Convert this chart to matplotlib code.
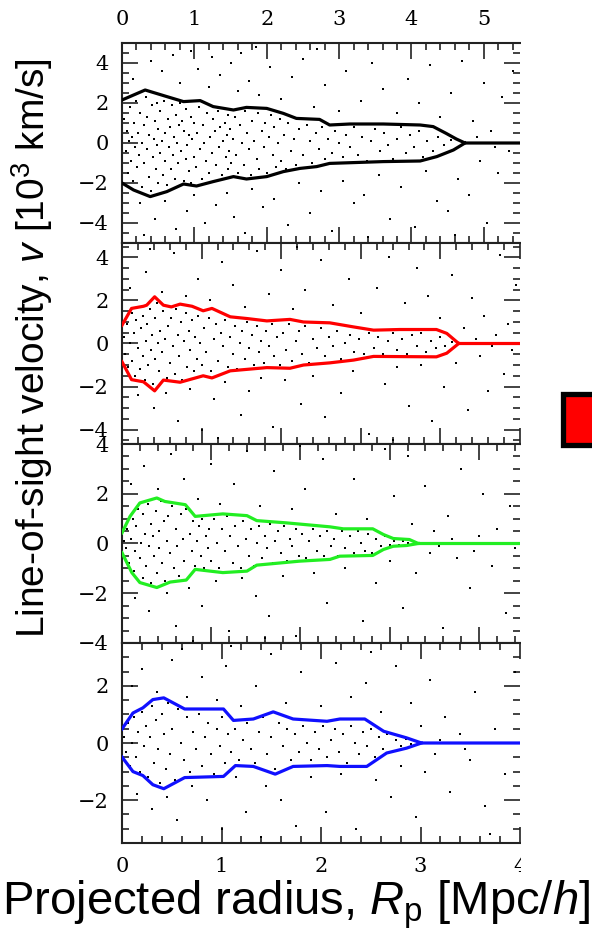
import matplotlib
matplotlib.use('Agg')
import matplotlib.pyplot as plt
from matplotlib.ticker import MultipleLocator, FixedLocator
from matplotlib.patches import Rectangle

plt.rcParams['mathtext.fontset'] = 'custom'
plt.rcParams['mathtext.rm'] = 'Liberation Sans'
plt.rcParams['mathtext.it'] = 'Liberation Sans:italic'

# ---------------- data ----------------
x_max = [5.5, 5.0, 4.46, 4.0]
v_lim = [5.0, 4.67, 4.0, 3.5]
x_major_ticks = [[0, 1, 2, 3, 4, 5], [0, 1, 2, 3, 4, 5], [0, 1, 2, 3, 4], [0, 1, 2, 3, 4]]
v_major_ticks = [[-4, -2, 0, 2, 4], [-4, -2, 0, 2, 4], [-4, -2, 0, 2, 4], [-2, 0, 2]]
curve_colors = ['#000000', '#ff0000', '#22ee22', '#1010ff']

# caustic curves (R, v) for each panel
up1 = [(0, 2.15), (0.32, 2.65), (0.62, 2.32), (0.85, 2.07), (1.08, 2.12), (1.26, 1.82), (1.54, 1.65),
       (1.72, 1.78), (2.0, 1.73), (2.23, 1.48), (2.41, 1.23), (2.73, 1.18), (2.87, 0.9), (3.15, 0.95),
       (3.61, 0.95), (4.12, 0.9), (4.3, 0.82), (4.48, 0.48), (4.62, 0.2), (4.74, 0.0), (5.5, 0.0)]
lo1 = [(0, -2.0), (0.16, -2.35), (0.39, -2.68), (0.62, -2.43), (0.85, -2.05), (1.03, -2.15), (1.26, -1.93),
       (1.54, -1.68), (1.72, -1.8), (2.0, -1.68), (2.23, -1.43), (2.46, -1.27), (2.69, -1.18), (2.87, -1.02),
       (3.61, -0.93), (4.12, -0.9), (4.35, -0.68), (4.58, -0.35), (4.74, 0.0)]
up2 = [(0, 0.85), (0.12, 1.63), (0.27, 1.73), (0.31, 1.78), (0.41, 2.17), (0.52, 1.78), (0.62, 1.7),
       (0.73, 1.83), (0.88, 1.73), (1.02, 1.52), (1.13, 1.63), (1.36, 1.24), (1.57, 1.16), (1.82, 1.05),
       (2.11, 1.12), (2.28, 1.0), (2.61, 0.96), (2.91, 0.77), (3.16, 0.62), (3.49, 0.65), (3.95, 0.65),
       (4.08, 0.47), (4.23, 0.0), (5.0, 0.0)]
lo2 = [(0, -0.85), (0.12, -1.68), (0.27, -1.78), (0.41, -2.2), (0.52, -1.7), (0.73, -1.8), (1.02, -1.5),
       (1.13, -1.6), (1.36, -1.27), (1.82, -1.12), (2.11, -1.15), (2.28, -1.0), (2.61, -0.9), (2.91, -0.77),
       (3.16, -0.6), (3.95, -0.62), (4.08, -0.45), (4.23, 0.0)]
up3 = [(0, 0.43), (0.09, 1.09), (0.2, 1.63), (0.39, 1.83), (0.48, 1.69), (0.71, 1.56), (0.82, 1.09),
       (1.13, 1.19), (1.4, 1.12), (1.51, 0.92), (1.84, 0.83), (2.33, 0.67), (2.48, 0.59), (2.81, 0.59),
       (2.93, 0.36), (3.04, 0.2), (3.22, 0.16), (3.32, 0.0), (4.46, 0.0)]
lo3 = [(0, -0.37), (0.11, -1.17), (0.2, -1.57), (0.39, -1.77), (0.54, -1.55), (0.72, -1.47), (0.82, -1.04),
       (1.13, -1.17), (1.4, -1.11), (1.51, -0.87), (1.99, -0.71), (2.33, -0.64), (2.44, -0.51), (2.81, -0.48),
       (2.93, -0.24), (3.04, -0.11), (3.19, -0.08), (3.32, 0.0)]
up4 = [(0, 0.49), (0.11, 1.05), (0.21, 1.23), (0.31, 1.52), (0.42, 1.58), (0.63, 1.19), (0.78, 1.19),
       (1.02, 1.19), (1.12, 0.79), (1.32, 0.84), (1.52, 1.09), (1.72, 0.84), (2.06, 0.76), (2.19, 0.84),
       (2.44, 0.84), (2.63, 0.41), (2.86, 0.18), (3.01, 0.0), (4.0, 0.0)]
lo4 = [(0, -0.49), (0.11, -1.0), (0.21, -1.14), (0.31, -1.46), (0.42, -1.6), (0.63, -1.21), (1.02, -1.17),
       (1.14, -0.79), (1.32, -0.82), (1.54, -1.09), (1.72, -0.82), (2.06, -0.79), (2.19, -0.82), (2.46, -0.82),
       (2.66, -0.35), (2.86, -0.18), (3.01, 0.0)]

# galaxies (R, v) for each panel, estimated by eye
gal1 = [(0.03,1.2),(0.05,-0.4),(0.07,0.6),(0.08,-1.5),(0.1,0.1),(0.11,1.8),(0.12,-0.9),(0.14,0.3),(0.15,-1.9),(0.17,1.0),
        (0.18,-0.2),(0.2,2.1),(0.21,-1.2),(0.22,0.5),(0.24,-0.6),(0.25,1.5),(0.27,-2.2),(0.28,0.0),(0.3,0.9),(0.31,-1.0),
        (0.33,2.3),(0.34,-0.3),(0.35,1.3),(0.37,-1.7),(0.38,0.4),(0.4,-2.4),(0.41,1.9),(0.43,-0.7),(0.44,0.2),(0.46,1.1),
        (0.47,-1.3),(0.48,2.0),(0.49,-0.1),(0.5,0.7),(0.5,-2.0),
        (0.52,-0.5),(0.53,1.6),(0.55,0.1),(0.56,-1.6),(0.58,2.1),(0.59,-0.9),(0.6,0.5),(0.62,-2.1),(0.63,1.2),(0.65,-0.2),
        (0.66,0.8),(0.68,-1.3),(0.69,1.9),(0.7,-0.6),(0.72,0.3),(0.73,-1.8),(0.75,1.4),(0.76,0.0),(0.78,-1.0),(0.79,0.9),
        (0.8,2.0),(0.82,-0.4),(0.83,1.1),(0.85,-1.9),(0.86,0.6),(0.88,-0.8),(0.89,1.7),(0.9,-0.1),(0.92,0.4),(0.93,-1.4),
        (0.95,1.3),(0.96,-2.0),(0.97,0.2),(0.99,-0.7),(1.0,1.0),
        (1.02,-1.2),(1.04,0.5),(1.06,1.8),(1.08,-0.3),(1.1,-1.8),(1.12,0.9),(1.14,0.0),(1.16,-0.9),(1.18,1.5),(1.2,-1.5),
        (1.22,0.3),(1.24,-0.5),(1.26,1.2),(1.28,0.6),(1.3,-1.1),(1.32,1.6),(1.34,-0.2),(1.36,0.8),(1.38,-1.6),(1.4,0.1),
        (1.42,1.0),(1.44,-0.7),(1.45,0.4),(1.46,-1.3),(1.47,1.4),(1.48,-0.4),(1.49,0.7),(1.5,-1.0),
        (1.53,0.2),(1.56,1.3),(1.58,-0.6),(1.6,-1.5),(1.63,0.9),(1.66,0.0),(1.68,-1.1),(1.7,1.6),(1.73,0.5),(1.76,-0.3),
        (1.78,-1.6),(1.8,1.1),(1.83,0.1),(1.86,-0.8),(1.88,1.5),(1.9,-1.3),(1.93,0.6),(1.96,-0.2),(1.98,1.0),(2.0,-1.5),
        (2.03,0.3),(2.06,1.4),(2.08,-0.6),(2.1,0.8),(2.13,-1.2),(2.16,0.0),(2.18,1.2),(2.2,-0.9),(2.24,0.4),(2.27,-1.3),
        (2.3,1.0),(2.33,-0.4),(2.37,0.2),(2.4,-1.1),(2.45,0.7),
        (2.5,-0.6),(2.55,0.9),(2.6,0.1),(2.63,-1.0),(2.68,0.5),(2.72,-0.3),(2.76,0.8),(2.8,-0.8),(2.85,0.2),(2.9,-0.5),
        (2.95,0.6),(3.0,0.0),(3.05,-0.7),(3.1,0.4),(3.15,-0.2),(3.2,0.8),(3.26,-0.6),(3.32,0.3),(3.38,-0.9),(3.44,0.1),
        (3.5,0.7),(3.56,-0.4),(3.62,0.5),(3.68,-0.1),(3.74,-0.8),(3.8,0.2),(3.86,0.8),(3.92,-0.5),(3.98,0.4),(4.04,-0.2),
        (4.1,0.6),(4.16,-0.7),(4.22,0.1),(4.3,-0.4),(4.36,0.3),(4.45,-0.1),(4.55,0.15),
        (0.15,3.2),(0.25,-3.0),(0.4,4.1),(0.45,-3.8),(0.55,3.6),(0.6,-2.9),(0.7,4.4),(0.75,-4.3),(0.8,3.0),(0.9,-3.4),
        (0.95,4.6),(1.0,-2.6),(1.05,3.7),(1.15,-4.0),(1.2,2.8),(1.25,4.3),(1.3,-3.1),(1.35,3.4),(1.45,-2.5),(1.5,4.0),
        (1.55,-3.7),(1.6,2.6),(1.65,4.5),(1.7,-4.5),(1.75,3.1),(1.8,-2.3),(1.9,2.4),(1.95,-3.2),(2.05,3.8),(2.1,-2.8),
        (2.2,2.2),(2.3,-4.1),(2.35,3.3),(2.45,-2.0),(2.5,4.2),(2.6,-3.5),(2.65,1.8),(2.75,-2.4),(2.8,2.9),(2.9,-4.4),
        (3.0,1.6),(3.05,-1.9),(3.1,3.6),(3.2,-3.0),(3.3,2.1),(3.35,-2.6),(3.45,4.0),(3.55,-1.6),(3.6,2.7),(3.7,-3.8),
        (3.8,1.5),(3.85,-2.2),(3.95,3.2),(4.05,-4.2),(4.1,2.0),(4.2,-1.4),(4.25,3.9),(4.35,-2.9),(4.4,1.3),(4.5,-3.4),
        (4.55,2.5),(4.65,-1.8),(4.7,4.1),(4.8,-2.6),(4.85,1.1),(4.95,-0.9),(5.0,3.0),(5.05,-4.0),(5.1,0.6),(5.2,-1.5),
        (5.25,2.3),(5.35,-0.4),(5.4,3.6),(4.9,0.3),(5.15,-0.2),(0.3,-4.6),(1.85,4.8),(3.4,-4.7),(4.6,-4.6),(2.7,4.7)]

gal2 = [(0.02,0.3),(0.04,-0.5),(0.06,0.9),(0.08,-1.1),(0.1,0.0),(0.12,1.4),(0.13,-0.8),(0.15,0.5),(0.16,-1.5),(0.18,1.1),
        (0.2,-0.2),(0.21,1.7),(0.23,-1.2),(0.24,0.7),(0.26,-0.6),(0.27,1.3),(0.29,-1.7),(0.3,0.1),(0.32,0.9),(0.33,-1.0),
        (0.35,1.6),(0.36,-0.3),(0.38,0.4),(0.39,-1.9),(0.41,1.2),(0.42,-0.7),(0.44,1.9),(0.45,0.0),(0.47,-1.3),(0.48,0.6),
        (0.5,-0.4),(0.52,1.5),(0.54,0.2),(0.56,-1.6),(0.58,0.8),(0.6,-0.9),(0.62,1.2),(0.64,-0.1),(0.66,-1.4),(0.68,1.6),
        (0.7,0.4),(0.72,-0.6),(0.74,1.0),(0.76,-1.7),(0.78,0.1),(0.8,1.4),(0.82,-1.1),(0.84,0.6),(0.86,-0.3),(0.88,1.1),
        (0.9,-1.3),(0.92,0.3),(0.94,-0.7),(0.96,1.3),(0.98,0.0),
        (1.0,-1.0),(1.03,0.7),(1.06,-0.4),(1.09,1.2),(1.12,-1.3),(1.15,0.2),(1.18,0.9),(1.21,-0.8),(1.24,0.5),(1.27,-0.1),
        (1.3,1.1),(1.33,-1.1),(1.36,0.3),(1.39,-0.5),(1.42,0.8),(1.45,-1.2),(1.48,0.0),(1.51,0.6),(1.54,-0.7),(1.57,1.0),
        (1.6,-0.2),(1.63,0.4),(1.66,-1.0),(1.69,0.8),(1.72,-0.4),(1.75,0.1),(1.78,-0.9),(1.81,0.6),(1.85,-0.1),(1.88,0.9),
        (1.91,-0.6),(1.95,0.3),(1.98,-1.0),
        (2.02,0.5),(2.06,-0.3),(2.1,0.9),(2.14,-0.8),(2.18,0.1),(2.22,0.6),(2.26,-0.5),(2.3,0.8),(2.35,-0.9),(2.4,0.2),
        (2.45,-0.2),(2.5,0.7),(2.55,-0.6),(2.6,0.3),(2.65,-0.1),(2.7,0.6),(2.75,-0.7),(2.8,0.0),(2.86,0.4),(2.92,-0.4),
        (2.98,0.2),(3.04,-0.5),(3.1,0.5),(3.16,-0.2),(3.22,0.3),(3.28,-0.5),(3.34,0.1),(3.4,0.5),(3.46,-0.3),(3.52,0.2),
        (3.58,-0.5),(3.64,0.4),(3.7,-0.1),(3.76,0.5),(3.82,-0.4),(3.88,0.1),(3.94,-0.2),(4.0,0.3),(4.06,-0.1),(4.14,0.05),
        (0.1,2.6),(0.2,-2.4),(0.3,3.3),(0.4,-3.0),(0.5,2.4),(0.55,-2.3),(0.65,4.2),(0.7,-3.6),(0.8,2.2),(0.85,-2.1),
        (0.95,3.0),(1.0,-4.0),(1.1,2.0),(1.15,-2.6),(1.25,3.8),(1.3,-1.8),(1.4,2.7),(1.5,-3.3),(1.55,1.7),(1.6,-2.2),
        (1.7,4.3),(1.75,-1.6),(1.85,2.3),(1.9,-3.9),(2.0,3.4),(2.05,-1.7),(2.15,1.6),(2.25,-2.8),(2.3,2.5),(2.4,-1.5),
        (2.5,3.9),(2.55,-3.4),(2.65,1.8),(2.75,-2.3),(2.85,3.0),(2.9,-1.3),(3.0,1.4),(3.1,-4.2),(3.2,2.6),(3.3,-1.9),
        (3.35,4.0),(3.45,-1.1),(3.55,1.9),(3.6,-2.9),(3.7,3.5),(3.75,-1.0),(3.85,2.2),(3.9,-3.6),(4.0,1.2),(4.05,-2.0),
        (4.15,3.2),(4.2,-0.9),(4.3,0.7),(4.35,-3.1),(4.4,2.1),(4.5,-0.6),(4.55,1.3),(4.6,-2.2),(4.7,0.4),(4.75,4.1),
        (4.8,-1.4),(4.85,0.9),(4.9,-0.3),(4.95,2.7),(4.45,0.2),(4.65,-0.1),(1.2,-4.4),(2.2,4.5),(3.4,-4.5),(0.35,4.4)]

gal3 = [(0.02,0.1),(0.04,-0.2),(0.06,0.6),(0.08,-0.8),(0.1,0.2),(0.12,1.0),(0.13,-1.1),(0.15,-0.3),(0.16,0.7),(0.18,1.4),
        (0.2,-0.6),(0.21,0.0),(0.23,-1.4),(0.24,1.2),(0.26,0.4),(0.27,-0.9),(0.29,1.6),(0.3,-0.1),(0.32,0.8),(0.33,-1.6),
        (0.35,0.3),(0.36,-0.5),(0.38,1.3),(0.39,-1.2),(0.41,0.5),(0.42,-0.2),(0.44,1.7),(0.45,-0.8),(0.47,0.9),(0.48,-1.5),
        (0.5,0.1),(0.52,1.1),(0.54,-0.4),(0.56,1.5),(0.58,-1.0),(0.6,0.6),(0.62,-0.1),(0.64,-1.3),(0.66,1.2),(0.68,0.2),
        (0.7,-0.7),(0.72,1.4),(0.74,-1.4),(0.76,0.4),(0.78,-0.3),(0.8,0.9),(0.82,-0.9),(0.84,0.1),(0.86,0.7),(0.88,-0.5),
        (0.9,1.0),(0.92,-1.0),(0.94,0.3),(0.96,-0.2),(0.98,0.6),
        (1.0,-0.7),(1.03,1.0),(1.06,0.0),(1.09,-1.0),(1.12,0.6),(1.15,-0.3),(1.18,1.1),(1.21,0.3),(1.24,-0.8),(1.27,0.7),
        (1.3,-0.1),(1.33,-1.0),(1.36,0.9),(1.39,0.2),(1.42,-0.5),(1.45,0.6),(1.48,-0.9),(1.51,0.0),(1.54,0.7),(1.57,-0.6),
        (1.6,0.3),(1.63,-0.2),(1.66,0.8),(1.69,-0.8),(1.72,0.1),(1.75,0.5),(1.78,-0.4),(1.81,0.7),(1.85,-0.7),(1.88,0.2),
        (1.91,-0.1),(1.95,0.6),(1.98,-0.5),
        (2.02,0.4),(2.06,-0.6),(2.1,0.1),(2.14,0.6),(2.18,-0.3),(2.22,0.3),(2.26,-0.5),(2.3,0.5),(2.34,-0.1),(2.38,0.2),
        (2.42,-0.5),(2.46,0.5),(2.5,-0.2),(2.55,0.3),(2.6,-0.4),(2.64,0.5),(2.68,0.0),(2.72,-0.3),(2.76,0.4),(2.8,-0.4),
        (2.85,0.2),(2.9,-0.1),(2.95,0.3),(3.0,-0.05),(3.05,0.1),(3.1,-0.05),(3.15,0.1),(3.2,0.0),
        (0.1,2.4),(0.15,-2.2),(0.25,3.1),(0.3,-2.7),(0.4,2.2),(0.5,-2.0),(0.55,3.6),(0.6,-3.3),(0.7,2.6),(0.75,-1.8),
        (0.85,1.8),(0.9,-2.5),(1.0,3.2),(1.05,-1.5),(1.1,1.6),(1.2,-3.5),(1.25,2.4),(1.35,-1.4),(1.4,3.7),(1.5,-2.1),
        (1.55,1.5),(1.65,-2.9),(1.7,2.9),(1.8,-1.3),(1.9,1.4),(1.95,-3.7),(2.05,2.2),(2.15,-1.2),(2.25,3.4),(2.3,-2.4),
        (2.4,1.2),(2.5,-1.0),(2.6,2.6),(2.7,-3.1),(2.75,1.0),(2.85,-1.6),(2.95,3.8),(3.0,-0.7),(3.05,1.9),(3.15,-2.6),
        (3.25,0.8),(3.3,-1.2),(3.4,2.3),(3.45,-0.4),(3.5,0.5),(3.6,-3.4),(3.65,1.1),(3.75,-0.6),(3.8,3.0),(3.9,-1.8),
        (4.0,0.3),(4.05,2.0),(4.15,-0.9),(4.2,0.6),(4.3,-2.8),(4.35,1.5),(4.4,-0.2),(3.55,-0.1),(3.7,0.2),(3.95,-0.3),
        (2.0,3.9),(0.8,-3.9),(3.2,3.5),(1.6,-3.8)]

gal4 = [(0.02,0.2),(0.04,-0.3),(0.06,0.7),(0.08,-0.8),(0.1,0.0),(0.12,0.9),(0.14,-0.5),(0.16,0.4),(0.18,-1.0),(0.2,1.1),
        (0.22,-0.1),(0.24,0.6),(0.26,-1.2),(0.28,0.2),(0.3,1.3),(0.32,-0.7),(0.34,0.8),(0.36,-0.2),(0.38,-1.4),(0.4,1.0),
        (0.42,0.3),(0.44,-0.9),(0.46,1.4),(0.48,-0.4),
        (0.5,0.5),(0.53,-1.3),(0.56,1.2),(0.59,0.0),(0.62,-0.6),(0.65,0.9),(0.68,-1.0),(0.71,0.4),(0.74,-0.2),(0.77,1.0),
        (0.8,-0.8),(0.83,0.2),(0.86,0.7),(0.89,-0.4),(0.92,-1.1),(0.95,0.5),(0.98,-0.1),(1.01,0.9),(1.04,-0.7),(1.07,0.3),
        (1.1,-0.3),(1.14,0.5),(1.18,-0.6),(1.22,0.1),(1.26,0.7),(1.3,-0.2),(1.34,-0.7),(1.38,0.4),(1.42,0.9),(1.46,-0.4),
        (1.5,0.2),(1.54,-0.9),(1.58,0.7),(1.62,-0.1),(1.66,0.5),(1.7,-0.6),(1.74,0.3),(1.78,-0.3),(1.82,0.6),(1.86,0.0),
        (1.9,-0.6),(1.94,0.4),(1.98,-0.2),(2.02,0.6),(2.06,-0.5),(2.1,0.1),(2.14,0.5),(2.18,-0.3),(2.22,0.3),(2.26,-0.7),
        (2.3,0.6),(2.34,0.0),(2.38,-0.4),(2.42,0.4),
        (2.46,-0.1),(2.5,0.5),(2.54,-0.5),(2.58,0.2),(2.62,-0.2),(2.66,0.3),(2.7,-0.3),(2.75,0.1),(2.8,-0.1),(2.85,0.15),
        (2.9,-0.05),
        (0.1,2.0),(0.15,-1.8),(0.2,2.6),(0.3,-2.3),(0.35,1.8),(0.45,-1.9),(0.5,2.9),(0.55,-2.7),(0.65,1.6),(0.7,-1.5),
        (0.8,2.3),(0.85,-2.0),(0.95,1.5),(1.0,-3.0),(1.05,2.7),(1.15,-1.2),(1.2,1.3),(1.25,-2.4),(1.35,2.0),(1.45,-1.5),
        (1.5,3.1),(1.6,-2.0),(1.65,1.4),(1.75,-2.9),(1.8,2.5),(1.9,-1.2),(2.0,1.3),(2.05,-2.4),(2.15,2.8),(2.2,-1.1),
        (2.3,1.6),(2.35,-3.0),(2.45,2.1),(2.55,-1.3),(2.6,1.1),(2.7,-1.9),(2.75,2.7),(2.8,-0.8),(2.9,1.4),(2.95,-2.6),
        (3.0,0.6),(3.05,-1.0),(3.1,2.2),(3.15,-0.4),(3.25,0.9),(3.3,-1.7),(3.4,0.3),(3.5,-0.6),(3.55,1.8),(3.65,-2.2),
        (3.75,0.5),(3.85,-1.1),(3.95,2.5),(3.2,0.1),(3.45,-0.2),(1.4,-3.3),(0.6,3.3),(2.5,3.2),(3.7,-3.2),(1.1,3.4)]

uppers = [up1, up2, up3, up4]
lowers = [lo1, lo2, lo3, lo4]
galaxies = [gal1, gal2, gal3, gal4]

# ---------------- figure ----------------
W, H = 592, 947
fig = plt.figure(figsize=(W / 100, H / 100), dpi=100)

rows_px = [(43, 243), (243, 444), (444, 643), (643, 843)]
left_px, right_px = 122, 520
tick_font = {'family': 'DejaVu Serif', 'size': 15}

for i in range(4):
    top, bot = rows_px[i]
    ax = fig.add_axes([left_px / W, 1 - bot / H, (right_px - left_px) / W, (bot - top) / H])
    ax.set_xlim(0, x_max[i])
    ax.set_ylim(-v_lim[i], v_lim[i])

    gx = [p[0] for p in galaxies[i]]
    gv = [p[1] for p in galaxies[i]]
    ax.plot(gx, gv, ls='none', marker='s', ms=1.9, mew=0, color='k', zorder=2)

    for curve in (uppers[i], lowers[i]):
        ax.plot([p[0] for p in curve], [p[1] for p in curve], color=curve_colors[i], lw=2.3,
                solid_joinstyle='round', zorder=3)

    ax.xaxis.set_major_locator(FixedLocator(x_major_ticks[i]))
    ax.xaxis.set_minor_locator(MultipleLocator(0.2))
    ax.yaxis.set_major_locator(FixedLocator(v_major_ticks[i]))
    ax.yaxis.set_minor_locator(MultipleLocator(0.5))

    ax.tick_params(which='both', direction='in', top=True, bottom=True, left=True, right=True,
                   labelleft=True, labelbottom=(i == 3), labeltop=(i == 0), labelright=False,
                   width=1.2, color='#222222')
    ax.tick_params(which='major', length=11.5)
    ax.tick_params(which='minor', length=5)
    ax.tick_params(axis='y', which='major', pad=9.5)
    ax.tick_params(axis='x', which='major', pad=10)
    for lab in ax.get_xticklabels() + ax.get_yticklabels():
        lab.set_fontfamily(tick_font['family'])
        lab.set_fontsize(tick_font['size'])

    for s in ('left', 'top', 'bottom'):
        ax.spines[s].set_linewidth(1.5)
        ax.spines[s].set_color('#222222')
    ax.spines['right'].set_visible(False)

# white area on the right, hiding the rest of the original figure (panels only)
fig.add_artist(Rectangle((521 / W, 1 - 878 / H), 1, 878 / H, transform=fig.transFigure,
                         facecolor='white', edgecolor='none', zorder=5))
# partially visible red legend box
fig.add_artist(Rectangle((562.5 / W, 1 - 444.5 / H), 40 / W, 51 / H, transform=fig.transFigure,
                         facecolor='#ff0000', edgecolor='black', linewidth=3.8, zorder=6))

fig.text(32 / W, 1 - 348 / H, 'Line-of-sight velocity, $v$ [10$^3$ km/s]', rotation=90,
         ha='center', va='center', fontsize=28, family='Liberation Sans')
fig.text(296 / W, 1 - 905 / H, 'Projected radius, $R_\\mathrm{p}$ [Mpc/$h$]',
         ha='center', va='center', fontsize=34, family='Liberation Sans', zorder=7)

fig.savefig('out.png', dpi=100)
